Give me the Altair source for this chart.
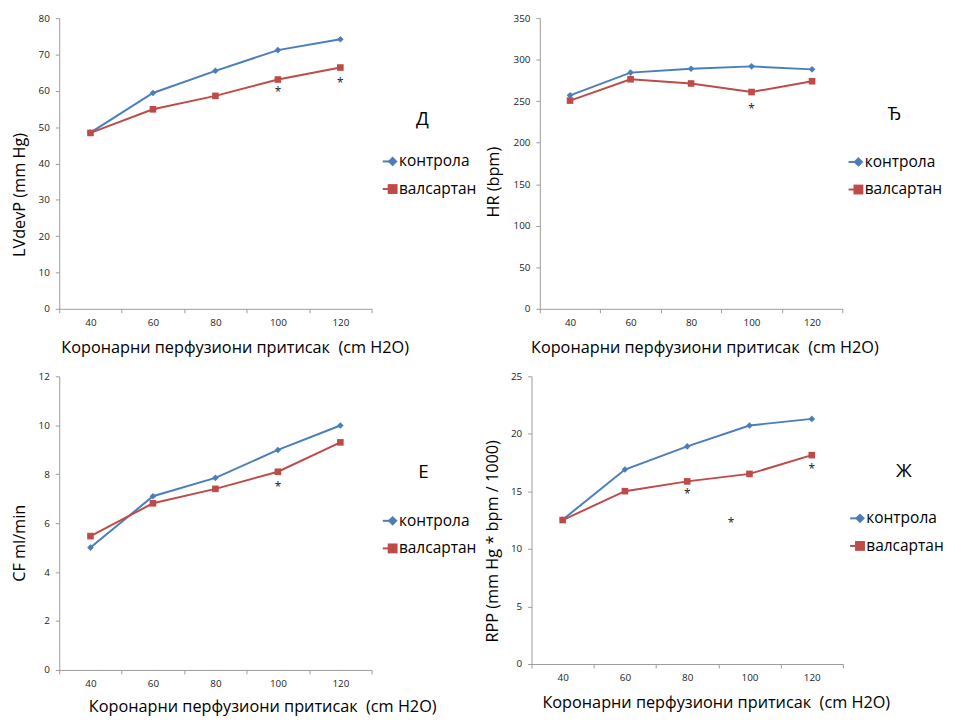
import altair as alt
import pandas as pd

# ---------------- data ----------------
x_cats = [40, 60, 80, 100, 120]
series_names = ["контрола", "валсартан"]
series_colors = ["#4A7EBB", "#BE4B48"]
series_shapes = ["diamond", "square"]
x_title = "Коронарни перфузиони притисак\u00a0 (cm H2O)"

# Д: LVdevP
lv_ctrl = [48.5, 59.4, 65.5, 71.2, 74.2]
lv_vals = [48.4, 54.9, 58.6, 63.1, 66.4]
lv_star_x = [100, 120]
lv_star_y = [60.2, 62.7]

# Ђ: HR
hr_ctrl = [257.0, 284.4, 289.0, 291.9, 288.3]
hr_vals = [250.7, 276.4, 271.3, 261.0, 274.0]
hr_star_x = [100]
hr_star_y = [242.8]

# Е: CF
cf_ctrl = [5.0, 7.1, 7.85, 8.99, 9.99]
cf_vals = [5.47, 6.81, 7.4, 8.1, 9.3]
cf_star_x = [100]
cf_star_y = [7.55]

# Ж: RPP
rpp_ctrl = [12.54, 16.9, 18.91, 20.73, 21.3]
rpp_vals = [12.51, 15.02, 15.87, 16.52, 18.15]
rpp_star_x = [80, 94.1, 120]
rpp_star_y = [14.96, 12.4, 17.1]

FONT = "Open Sans"
AXIS_GRAY = "#9a9a9a"
LEG_FS = 15.7
LAB_FS = 19
RES = dict(color="independent", shape="independent", stroke="independent")


def panel(ctrl, vals, sx, sy, ymax, ystep, ytitle, label, w, h,
          ytx, yty, xtx, xty, legx, legy, tpad, talign):
    rows = []
    for name, ys in zip(series_names, [ctrl, vals]):
        for xv, yv in zip(x_cats, ys):
            rows.append({"x": xv, "y": yv, "series": name, "series_l": name})
    df = pd.DataFrame(rows)
    stars = pd.DataFrame({"x": sx, "y": sy, "t": ["*"] * len(sx)})

    band = w / len(x_cats)
    xticks = [c - 10 for c in x_cats] + [x_cats[-1] + 10]
    xscale = alt.Scale(domain=[xticks[0], xticks[-1]], nice=False, zero=False)
    yscale = alt.Scale(domain=[0, ymax], nice=False)
    xaxis = alt.Axis(
        values=xticks, grid=False, title=x_title,
        labelExpr=f"datum.value < {x_cats[-1]} ? toString(datum.value + 10) : ''",
        labelOffset=band / 2, labelOverlap=False, labelFlush=False,
        labelPadding=5, tickSize=4, labelFontSize=10,
        titleX=xtx, titleY=xty, titleAlign="center", titleBaseline="middle",
        titleFontSize=16.5, titleFontWeight="normal",
    )
    yaxis = alt.Axis(
        values=list(range(0, ymax + 1, ystep)), grid=False, title=ytitle,
        tickSize=4, labelPadding=6, labelFontSize=10,
        titleX=ytx, titleY=yty, titleAlign="center", titleBaseline="middle",
        titleAngle=270, titleFontSize=16.5, titleFontWeight="normal",
    )
    X = alt.X("x:Q", scale=xscale, axis=xaxis)
    Y = alt.Y("y:Q", scale=yscale, axis=yaxis)

    line = alt.Chart(df).mark_line(strokeWidth=2).encode(
        x=X, y=Y,
        stroke=alt.Stroke(
            "series_l:N",
            scale=alt.Scale(domain=series_names, range=series_colors),
            legend=alt.Legend(
                title=label, titleFontSize=LAB_FS, titleFont=FONT,
                titleFontWeight="normal", titleColor="black",
                titleAnchor="middle", titleAlign=talign, titleBaseline="top",
                titlePadding=tpad, titleLimit=300,
                orient="none", legendX=legx, legendY=legy,
                symbolType="stroke", symbolSize=169, symbolStrokeWidth=2,
                labelFontSize=LEG_FS, labelFont=FONT, labelColor="black",
                labelOffset=2, rowPadding=11, padding=0, labelLimit=200,
            ),
        ),
        detail="series:N",
    )
    leg_pts = alt.Legend(
        title=None, orient="none", legendX=legx + 3.5,
        legendY=legy + LAB_FS + tpad,
        labelFontSize=LEG_FS, labelFont=FONT, labelOpacity=0,
        labelOffset=4.8, rowPadding=11, padding=0, labelLimit=200,
        symbolStrokeWidth=0,
    )
    pts = alt.Chart(df).mark_point(filled=True, opacity=1, size=45).encode(
        x=X, y=Y,
        color=alt.Color("series:N",
                        scale=alt.Scale(domain=series_names, range=series_colors),
                        legend=leg_pts),
        shape=alt.Shape("series:N",
                        scale=alt.Scale(domain=series_names, range=series_shapes),
                        legend=leg_pts),
    )
    star = alt.Chart(stars).mark_text(
        fontSize=12, font=FONT, color="#1a1a1a", baseline="alphabetic", dy=6
    ).encode(x=X, y=Y, text="t:N")

    return alt.layer(line, pts, star).properties(width=w, height=h).resolve_scale(**RES)


p1 = panel(lv_ctrl, lv_vals, lv_star_x, lv_star_y, 80, 10, "LVdevP (mm Hg)", "Д",
           317, 295, -40, 179, 178, 39, 327, 93, 25.6, "right")
p2 = panel(hr_ctrl, hr_vals, hr_star_x, hr_star_y, 350, 50, "HR (bpm)", "Ђ",
           307, 295, -47, 166, 167, 39, 312, 88.5, 30.6, "center")
p3 = panel(cf_ctrl, cf_vals, cf_star_x, cf_star_y, 12, 2, "CF ml/min", "Е",
           317, 298, -40, 169, 206, 37, 327, 88.2, 31.6, "right")
p4 = panel(rpp_ctrl, rpp_vals, rpp_star_x, rpp_star_y, 25, 5, "RPP (mm Hg * bpm / 1000)", "Ж",
           316, 292, -40, 167, 187, 39, 322, 87.4, 29.9, "left")

row1 = alt.hconcat(p1, p2, spacing=170.7, bounds="flush").resolve_scale(**RES).resolve_legend(**RES)
row2 = alt.hconcat(p3, p4, spacing=162.3, bounds="flush").resolve_scale(**RES).resolve_legend(**RES)

chart = alt.vconcat(row1, row2, spacing=15.5, bounds="full").resolve_scale(**RES).resolve_legend(
    **RES
).properties(
    padding={"left": 4, "top": 0, "right": 0, "bottom": -2}
).configure(font=FONT).configure_view(stroke=None).configure_axis(
    domainColor=AXIS_GRAY, tickColor=AXIS_GRAY, labelColor="#222222",
    titleColor="black", labelFont=FONT, titleFont=FONT, domainWidth=1,
)

chart.save("out.html", embed_options={"renderer": "svg", "actions": False})
